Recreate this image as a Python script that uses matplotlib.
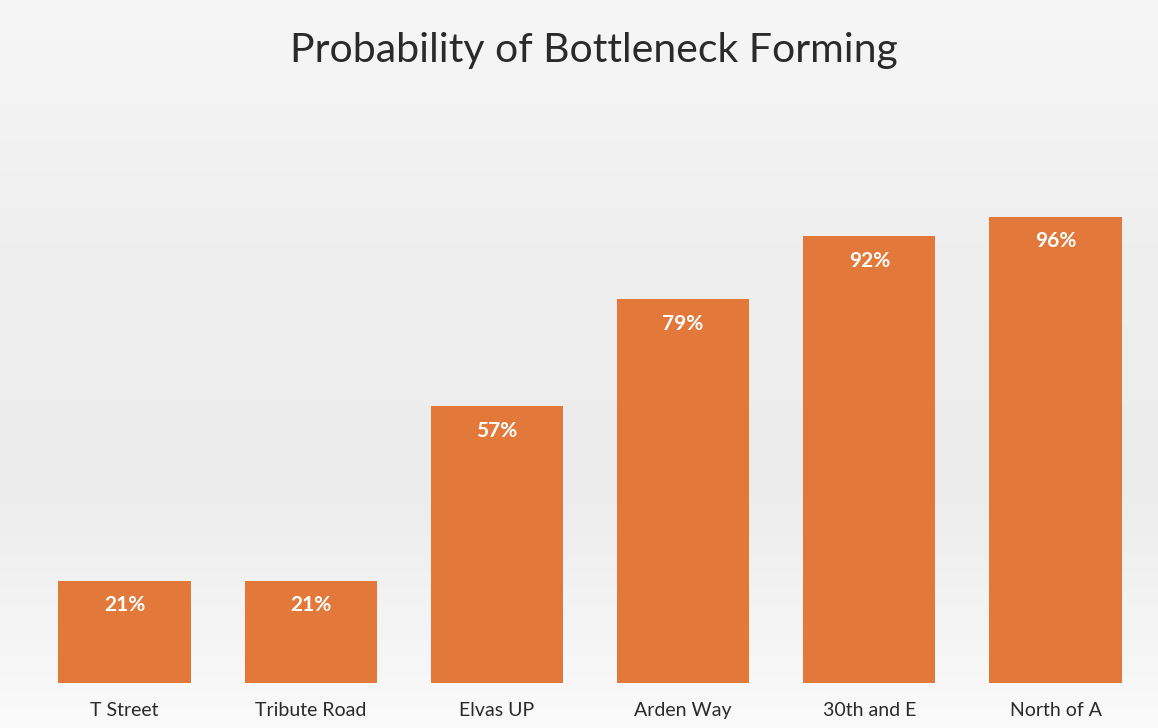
import numpy as np
import matplotlib.pyplot as plt
from matplotlib.colors import LinearSegmentedColormap

locations = ['T Street', 'Tribute Road', 'Elvas UP', 'Arden Way', '30th and E', 'North of A']
probability = [21, 21, 57, 79, 92, 96]

plt.rcParams['font.family'] = ['Lato', 'DejaVu Sans']

fig = plt.figure(figsize=(11.58, 7.28), dpi=100)
fig.patch.set_facecolor('#f2f2f2')

# soft gray backdrop, lighter towards the bottom like the scan
bg = fig.add_axes([0, 0, 1, 1], zorder=-1)
cmap = LinearSegmentedColormap.from_list('bg', ['#fafafa', '#ececec', '#efefef', '#f6f6f6'])
grad = np.linspace(0.0, 1.0, 256).reshape(-1, 1)
bg.imshow(grad, aspect='auto', cmap=cmap, extent=[0, 1, 0, 1], origin='lower')
bg.axis('off')

ax = fig.add_axes([0.027, 0.0618, 0.965, 0.667])
ax.patch.set_alpha(0)
x = np.arange(len(locations))
bars = ax.bar(x, probability, width=0.71, color='#E2793A', zorder=2)

for b, v in zip(bars, probability):
    ax.text(b.get_x() + b.get_width() / 2, v - 5.0, f'{v}%',
            ha='center', va='center', color='white', fontsize=15, fontweight='bold')

ax.set_xlim(-0.5, len(locations) - 0.5)
ax.set_ylim(0, 100)
ax.set_xticks(x)
ax.set_xticklabels(locations, fontsize=14, color='#2a2a2a')
ax.tick_params(axis='x', length=0, pad=14)
ax.set_yticks([])
for s in ax.spines.values():
    s.set_visible(False)

fig.text(0.513, 0.930, 'Probability of Bottleneck Forming', ha='center', va='center',
         fontsize=29.5, color='#2a2a2a')

fig.savefig('out.png', dpi=100)
